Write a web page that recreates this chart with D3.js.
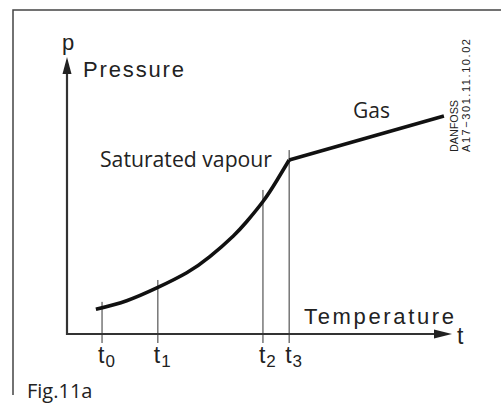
<!DOCTYPE html>
<html>
<head>
<meta charset="utf-8">
<script src="https://cdn.jsdelivr.net/npm/d3@7"></script>
<style>
  html, body { margin: 0; padding: 0; background: #fff; }
  svg { display: block; }
</style>
</head>
<body>
<svg id="chart" width="501" height="403"></svg>
<script>
// ---- data (abstract temperature / pressure units, 0..100) ----
const tickNames = ["0", "1", "2", "3"];
const tickTemps = [9.1, 23.6, 50.9, 57.7];
const guideTops = [11.6, 19.5, 52.0, 66.4];
const satTemp = [7.5, 15.5, 23.6, 31.1, 37.1, 43.2, 46.7, 51.0, 54.5, 57.7];
const satPress = [8.9, 12.0, 16.8, 22.1, 27.9, 35.4, 40.6, 48.0, 55.4, 62.8];
const gasTemp = [57.7, 97.9];
const gasPress = [62.8, 78.7];

const svg = d3.select("#chart");
const x = d3.scaleLinear().domain([0, 100]).range([67, 452]);
const y = d3.scaleLinear().domain([0, 100]).range([334, 57]);

const geo = "'Liberation Sans', Arial, sans-serif";
const hum = "'Open Sans', sans-serif";
const ink = "#222";

// frame (left + top)
svg.append("path")
  .attr("d", "M13,395 L13,10 L501,10")
  .attr("fill", "none").attr("stroke", "#444").attr("stroke-width", 1.5);

// guide lines at tick temperatures
svg.append("g").selectAll("line").data(tickTemps).join("line")
  .attr("x1", d => x(d)).attr("x2", d => x(d))
  .attr("y1", (d, i) => y(guideTops[i]))
  .attr("y2", y(0) + 9)
  .attr("stroke", "#333").attr("stroke-width", 1);

// axes
svg.append("line")
  .attr("x1", x(0)).attr("x2", x(100) - 10)
  .attr("y1", y(0)).attr("y2", y(0))
  .attr("stroke", "#333").attr("stroke-width", 2.2);
svg.append("line")
  .attr("x1", x(0)).attr("x2", x(0))
  .attr("y1", y(0) + 1).attr("y2", y(100) + 10)
  .attr("stroke", "#333").attr("stroke-width", 2.2);
// arrowheads
svg.append("path")
  .attr("d", `M${x(100)},${y(0)} L${x(100) - 18},${y(0) - 4.5} L${x(100) - 18},${y(0) + 4.5} Z`)
  .attr("fill", "#222");
svg.append("path")
  .attr("d", `M${x(0)},${y(100)} L${x(0) - 4.5},${y(100) + 17} L${x(0) + 4.5},${y(100) + 17} Z`)
  .attr("fill", "#222");

// saturated vapour curve
const satData = satTemp.map((t, i) => [t, satPress[i]]);
const gasData = gasTemp.map((t, i) => [t, gasPress[i]]);
svg.append("path")
  .attr("d", d3.line().x(d => x(d[0])).y(d => y(d[1])).curve(d3.curveNatural)(satData))
  .attr("fill", "none").attr("stroke", "#111").attr("stroke-width", 3.6)
  .attr("stroke-linejoin", "round");
svg.append("path")
  .attr("d", d3.line().x(d => x(d[0])).y(d => y(d[1]))(gasData))
  .attr("fill", "none").attr("stroke", "#111").attr("stroke-width", 3.6);

// axis labels
svg.append("text").attr("x", 62).attr("y", 50)
  .attr("font-family", geo).attr("font-size", 22).attr("fill", ink).text("p");
svg.append("text").attr("x", 83).attr("y", 77)
  .attr("font-family", geo).attr("font-size", 22).attr("fill", ink)
  .attr("textLength", 101).attr("lengthAdjust", "spacing").text("Pressure");
svg.append("text").attr("x", 304).attr("y", 324)
  .attr("font-family", geo).attr("font-size", 22).attr("fill", ink)
  .attr("textLength", 150).attr("lengthAdjust", "spacing").text("Temperature");
svg.append("text").attr("x", 457).attr("y", 344)
  .attr("font-family", geo).attr("font-size", 23).attr("fill", ink).text("t");

// tick labels
const tl = svg.append("g").selectAll("text").data(tickTemps).join("text")
  .attr("x", d => x(d) - 4).attr("y", 363)
  .attr("font-family", geo).attr("font-size", 23).attr("fill", ink);
tl.append("tspan").text("t");
tl.append("tspan").attr("font-size", 17).attr("dy", 4).attr("dx", 1)
  .text((d, i) => tickNames[i]);

// region labels
svg.append("text").attr("x", 100).attr("y", 167)
  .attr("font-family", hum).attr("font-size", 21).attr("fill", ink)
  .attr("textLength", 172).attr("lengthAdjust", "spacingAndGlyphs").text("Saturated vapour");
svg.append("text").attr("x", 353).attr("y", 118)
  .attr("font-family", hum).attr("font-size", 21).attr("fill", ink).text("Gas");

// drawing code
svg.append("text").attr("transform", "translate(458,152) rotate(-90)")
  .attr("font-family", geo).attr("font-size", 11).attr("fill", ink)
  .attr("textLength", 52).attr("lengthAdjust", "spacingAndGlyphs").text("DANFOSS");
svg.append("text").attr("transform", "translate(470,152) rotate(-90)")
  .attr("font-family", geo).attr("font-size", 11).attr("fill", ink)
  .attr("textLength", 113).attr("lengthAdjust", "spacing").text("A17\u2212301.11.10.02");

// figure caption
svg.append("text").attr("x", 27).attr("y", 398)
  .attr("font-family", hum).attr("font-size", 20).attr("fill", ink).text("Fig.11a");
</script>
</body>
</html>
